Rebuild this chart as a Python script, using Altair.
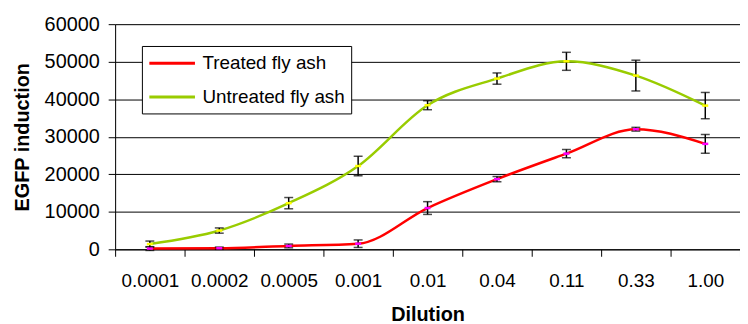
import altair as alt
import pandas as pd

categories = ["0.0001", "0.0002", "0.0005", "0.001", "0.01", "0.04", "0.11", "0.33", "1.00"]
series_names = ["Treated fly ash", "Untreated fly ash"]
treated_mean = [200, 300, 900, 1500, 11000, 18700, 25500, 32000, 28100]
treated_err = [500, 300, 500, 1000, 1700, 700, 1100, 500, 2500]
untreated_mean = [1400, 5000, 12300, 22200, 38400, 45500, 50100, 46300, 38300]
untreated_err = [800, 700, 1500, 2600, 1200, 1500, 2400, 4100, 3500]
line_colors = ["#FF0000", "#99CC00"]
marker_colors = ["#FF00FF", "#FFFF00"]

rows = []
for name, means, errs, mc in [
    (series_names[0], treated_mean, treated_err, marker_colors[0]),
    (series_names[1], untreated_mean, untreated_err, marker_colors[1]),
]:
    for c, m, e in zip(categories, means, errs):
        rows.append({"dilution": c, "series": name, "value": m,
                     "lo": m - e, "hi": m + e, "mcolor": mc})
df = pd.DataFrame(rows)

FONT = "Liberation Sans"

x = alt.X("dilution:N", sort=categories,
          scale=alt.Scale(type="band", paddingInner=0, paddingOuter=0),
          axis=alt.Axis(title="Dilution", tickBand="extent", grid=False,
                        labelAngle=0, labelFontSize=19, labelFont=FONT,
                        labelColor="black", labelPadding=15,
                        tickSize=7, tickColor="black", domainColor="black",
                        titleFontSize=20, titleFont=FONT, titleFontWeight="bold",
                        titleColor="black", titlePadding=15))

y_axis = alt.Axis(title="EGFP induction", values=list(range(0, 60001, 10000)),
                  format="d", grid=True, gridColor="black", gridOpacity=1,
                  labelFontSize=20, labelFont=FONT, labelColor="black",
                  labelPadding=9, tickSize=7, tickColor="black",
                  domainColor="black", titleFontSize=20, titleFont=FONT,
                  titleFontWeight="bold", titleColor="black", titlePadding=12,
                  labelOverlap=False)
y_scale = alt.Scale(domain=[0, 60000], nice=False)

base = alt.Chart(df)

lines = base.mark_line(strokeWidth=2.5, interpolate="monotone").encode(
    x=x,
    y=alt.Y("value:Q", scale=y_scale, axis=y_axis),
    color=alt.Color("series:N", sort=series_names,
                    scale=alt.Scale(domain=series_names, range=line_colors),
                    legend=alt.Legend(title=None, orient="none", legendX=27, legendY=22,
                                      symbolType="M-1,0H3.6", symbolStrokeWidth=3,
                                      symbolSize=400, labelFontSize=19,
                                      labelFont=FONT, labelColor="black",
                                      fillColor="white", strokeColor="black",
                                      padding=6, rowPadding=12, labelOffset=32)),
)

err = base.mark_rule(color="black", strokeWidth=1.5).encode(
    x=x, y=alt.Y("lo:Q", scale=y_scale, axis=y_axis), y2="hi:Q")
cap_lo = base.mark_tick(color="black", size=9, thickness=1.5).encode(
    x=x, y=alt.Y("lo:Q", scale=y_scale, axis=y_axis))
cap_hi = base.mark_tick(color="black", size=9, thickness=1.5).encode(
    x=x, y=alt.Y("hi:Q", scale=y_scale, axis=y_axis))

markers = base.mark_tick(size=6, thickness=2.5, opacity=1).encode(
    x=x, y=alt.Y("value:Q", scale=y_scale, axis=y_axis),
    color=alt.Color("mcolor:N", scale=None))

chart = alt.layer(lines, err, cap_lo, cap_hi, markers).resolve_scale(
    color="independent"
).properties(
    width=630, height=227,
    autosize=alt.AutoSizeParams(type="none"),
    padding={"left": 108, "top": 15, "right": 0, "bottom": 74},
).configure_view(stroke=None).configure(background="white")

chart.save("out.html", embed_options={"renderer": "svg", "actions": False})
